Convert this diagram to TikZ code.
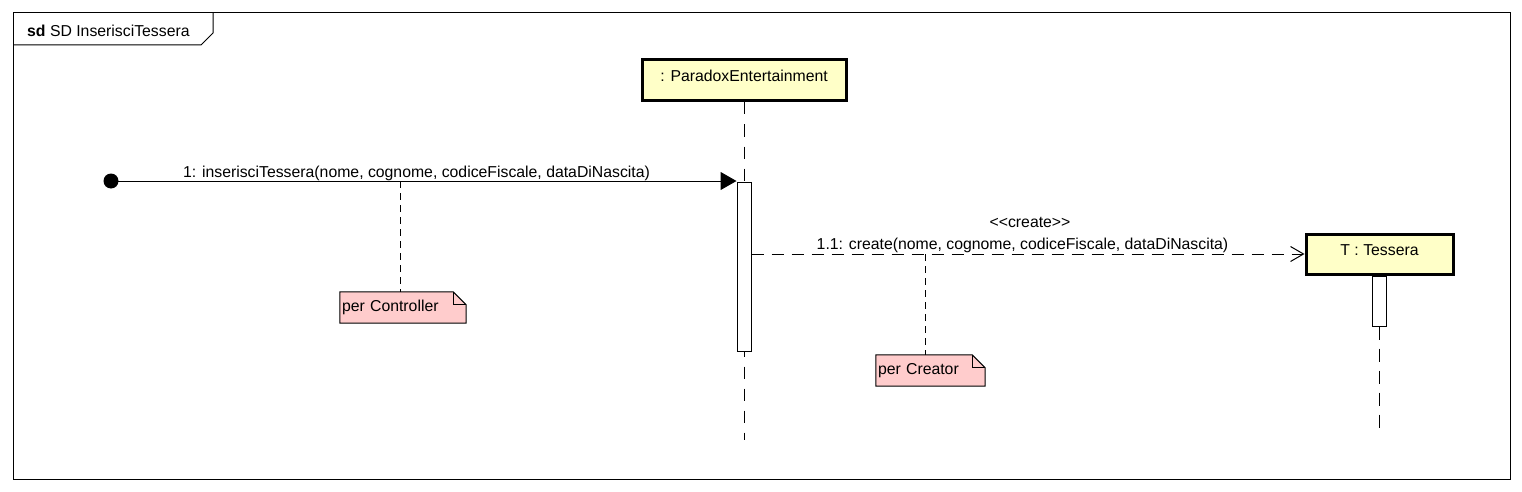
\documentclass[tikz,border=0pt]{standalone}
\usepackage{fontspec}
\setmainfont{Liberation Sans}
\usetikzlibrary{arrows.meta,backgrounds}
\definecolor{lifefill}{HTML}{FFFFC8}
\definecolor{notefill}{HTML}{FFCCCC}
\newcommand{\fsz}{\fontsize{15.8}{18}\selectfont}
\tikzset{
  lifebox/.style={draw=black, line width=3pt, fill=lifefill, rectangle, inner sep=0pt,
    text height=11pt, text depth=8pt, font=\fsz},
  actbar/.style={draw=black, line width=1pt, fill=white, rectangle, inner sep=0pt, minimum width=14pt},
  lifeline/.style={line width=1pt, dash pattern=on 12pt off 10pt},
  msgsync/.style={line width=1pt, -{Triangle[length=16pt,width=18pt]}},
  msgcreate/.style={line width=1pt, dash pattern=on 12pt off 8pt, -{Straight Barb[length=13pt,width=15pt,line width=1pt]}},
  lbl/.style={font=\fsz, inner sep=0pt},
  notebox/.style={rectangle, inner sep=2pt, align=left, font=\fsz},
  noteline/.style={line width=0.9pt, dash pattern=on 7pt off 5pt},
  noteshape/.style={draw=black, line width=1pt, fill=notefill},
}
\begin{document}
\begin{tikzpicture}[x=1pt,y=-1pt]
\useasboundingbox (0,0) rectangle (1522,492);
% frame
\draw[line width=1pt] (13,13) rectangle (1510,479);
\draw[line width=1pt] (13,45) -- (201,45) -- (213,33) -- (213,13);
\node[lbl, anchor=base west] (title) at (27,37) {\textbf{sd} SD InserisciTessera};

% lifelines
\node[lifebox, minimum width=204pt, minimum height=41pt] (pe) at (744,80.5) {: ParadoxEntertainment};
\node[lifebox, minimum width=147pt, minimum height=40pt] (tes) at (1379.5,254) {T : Tessera};
\coordinate (peend) at (744,440);
\coordinate (tesend) at (1379.5,435);
\node[actbar, minimum height=169pt] (act1) at (744,266.5) {};
\node[actbar, minimum height=50pt, anchor=north] (act2) at (tes.south) {};
\begin{scope}[on background layer]
\draw[lifeline] (pe.south) -- (peend);
\draw[lifeline, dash pattern=on 13pt off 9pt] (act2.south) -- (tesend);
\end{scope}

% found message
\node[circle, fill=black, inner sep=0pt, minimum size=15pt] (start) at (111,181) {};
\draw[msgsync] (start.center) -- (start.center -| act1.west);
\node[lbl, anchor=base] (m1) at (416.5,177) {1: inserisciTessera(nome, cognome, codiceFiscale, dataDiNascita)};

% create message
\draw[msgcreate] (act1.east |- tes.west) -- (tes.west);
\node[lbl, anchor=base] (st) at (1030,227) {\mbox{<}\mbox{<}create\mbox{>}\mbox{>}};
\node[lbl, anchor=base] (m2) at (1022.5,249) {1.1: create(nome, cognome, codiceFiscale, dataDiNascita)};

% notes
\node[notebox, text width=122pt, minimum height=31pt] (n1) at (403,307.5) {per Controller};
\node[notebox, text width=105pt, minimum height=31pt] (n2) at (930.5,370.5) {per Creator};
\begin{scope}[on background layer]
\foreach \n in {n1,n2}{
  \draw[noteshape] (\n.south west) -- (\n.north west) -- ([xshift=-13pt]\n.north east)
     -- ([yshift=-13pt]\n.north east) -- (\n.south east) -- cycle;
  \draw[line width=1pt] ([xshift=-13pt]\n.north east) -- ([xshift=-13pt,yshift=-13pt]\n.north east)
     -- ([yshift=-13pt]\n.north east);
}
\end{scope}
\coordinate (c1) at (400,181);
\coordinate (c2) at (925,254);
\draw[noteline] (c1) -- (c1 |- n1.north);
\draw[noteline] (c2) -- (c2 |- n2.north);
\end{tikzpicture}
\end{document}
